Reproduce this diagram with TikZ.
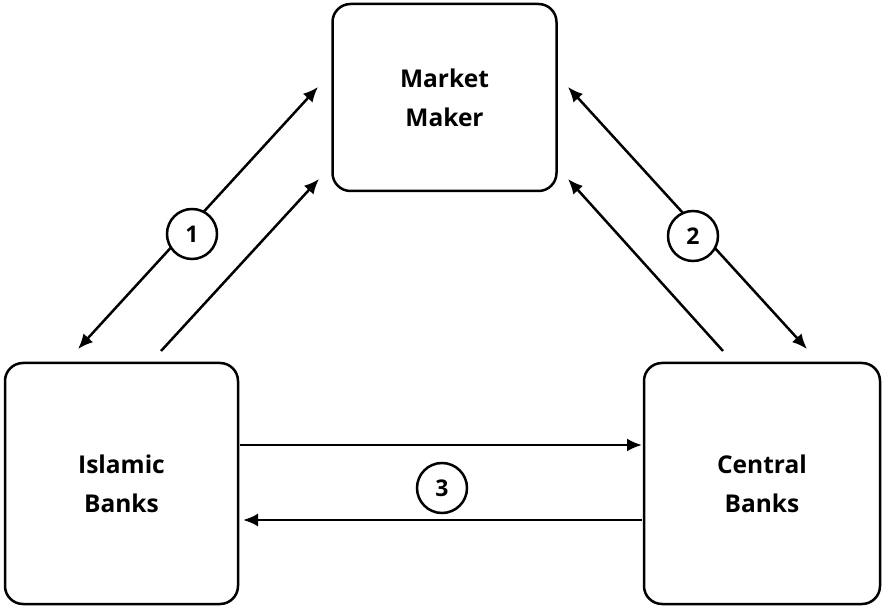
\documentclass[tikz,border=0pt]{standalone}
\usepackage{fontspec}
\setmainfont{Open Sans}
\usetikzlibrary{arrows.meta}
\begin{document}
\begin{tikzpicture}[x=1pt,y=-1pt,
  box/.style={draw,line width=2.5pt,rounded corners=18pt,fill=white,align=center,
    font=\fontsize{24.5}{39}\selectfont\bfseries,inner sep=0pt},
  num/.style={draw,circle,line width=2.5pt,fill=white,minimum size=50pt,inner sep=0pt,
    font=\fontsize{23}{26}\selectfont\bfseries},
  conn/.style={line width=2.5pt,-{Latex[length=15pt,width=13pt]}},
  dconn/.style={line width=2.5pt,{Latex[length=15pt,width=13pt]}-{Latex[length=15pt,width=13pt]}}]
\useasboundingbox (0,0) rectangle (884,609);
\node[box,minimum width=224pt,minimum height=187pt] (mm) at (444.5,97.5) {Market\\Maker};
\node[box,minimum width=233pt,minimum height=241pt] (ib) at (121.5,483.5) {Islamic\\Banks};
\node[box,minimum width=236pt,minimum height=241pt] (cb) at (762,483.5) {Central\\Banks};
% free ends
\coordinate (l1a) at (78,349);
\coordinate (l1b) at (318,87);
\coordinate (l2a) at (161,351);
\coordinate (l2b) at (319,179);
\coordinate (r1a) at (568,87);
\coordinate (r1b) at (807,349);
\coordinate (r2a) at (723,351);
\coordinate (r2b) at (568,179);
\coordinate (b1a) at (240,445);
\coordinate (b1b) at (642,445);
\coordinate (b2a) at (642,520);
\coordinate (b2b) at (243,520);
\draw[dconn] (l1a) -- (l1b);
\draw[conn] (l2a) -- (l2b);
\draw[dconn] (r1a) -- (r1b);
\draw[conn] (r2a) -- (r2b);
\draw[conn] (b1a) -- (b1b);
\draw[conn] (b2a) -- (b2b);
\node[num] (n1) at (192,234) {1};
\node[num] (n2) at (693,236) {2};
\node[num] (n3) at (442,488) {3};
\end{tikzpicture}
\end{document}
